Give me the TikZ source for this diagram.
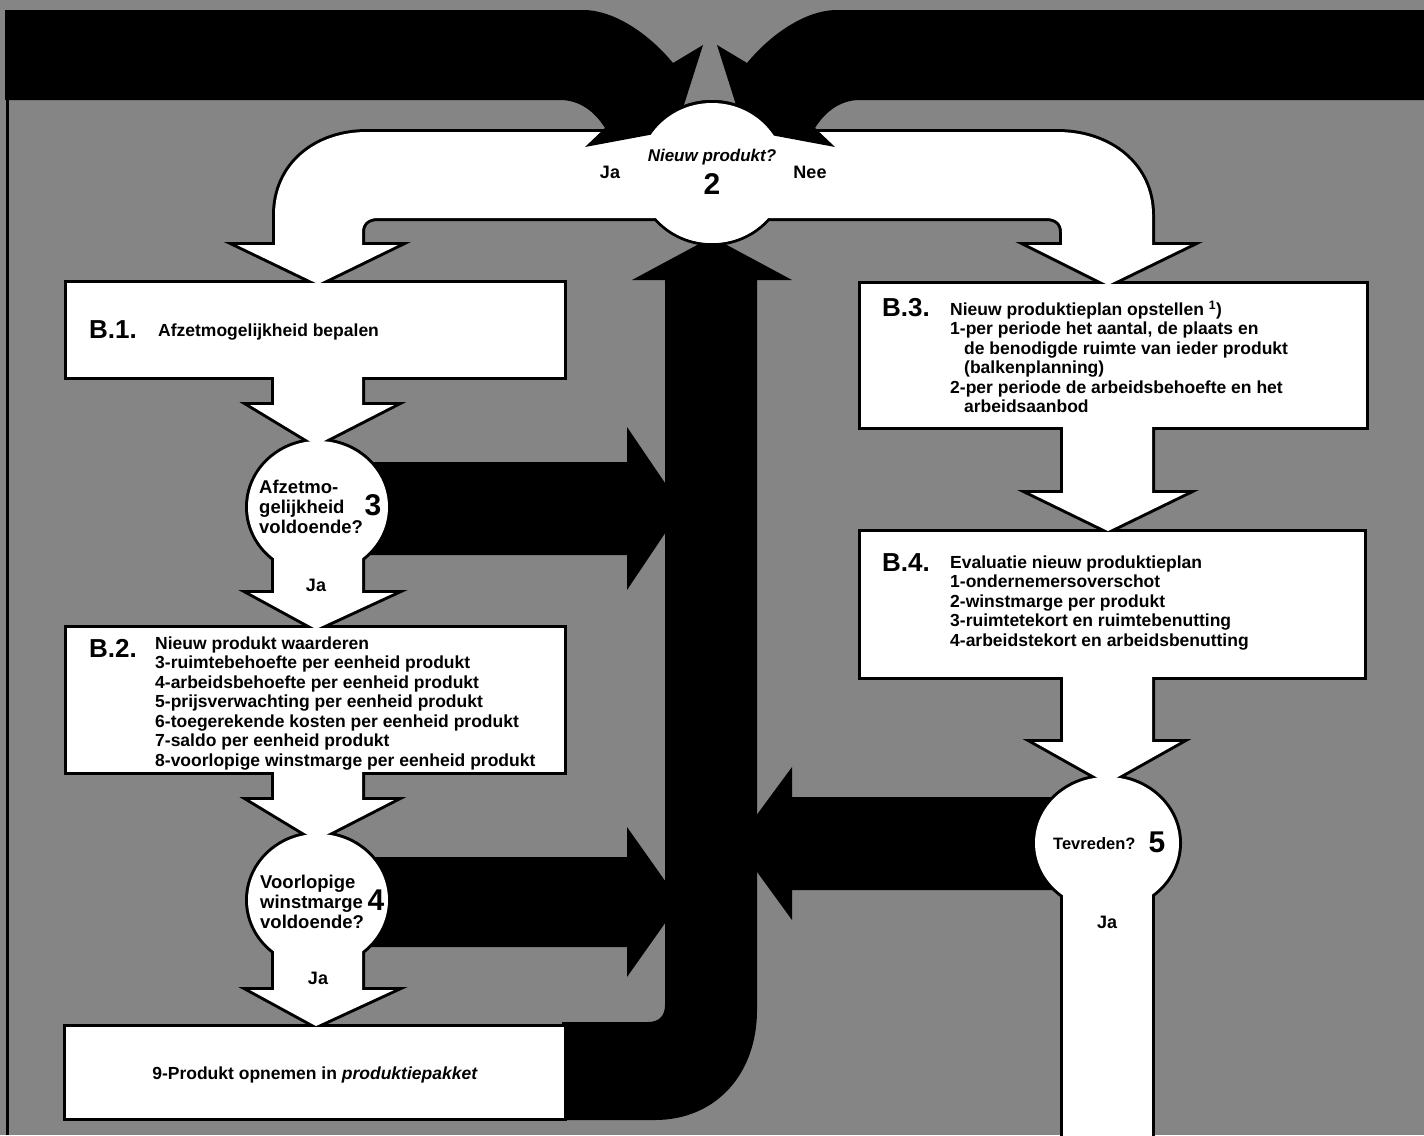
\documentclass[tikz,border=0pt]{standalone}
\usepackage{fontspec}
\setmainfont{Liberation Sans}
\definecolor{bgc}{gray}{0.52}
% white shapes (paths)
\newcommand\shBar{(275,249) -- (275,215) .. controls (275,165) and (315,132) .. (367,132) -- (1057,132) .. controls (1110,132) and (1152,165) .. (1152,215) -- (1152,249) -- (1062,249) -- (1062,232) .. controls (1062,223) and (1056,218) .. (1046,218) -- (378,218) .. controls (368,218) and (362,223) .. (362,232) -- (362,249) -- cycle}
\newcommand\shEll{(712,173) ellipse [x radius=73, y radius=70]}
\newcommand\shHeadL{(237,245) -- (318,284) -- (398,245) -- cycle}
\newcommand\shHeadR{(1028,245) -- (1108,285) -- (1190,245) -- cycle}
\newcommand\shBoxA{(67,283) rectangle (564,377)}
\newcommand\shArrA{(274,370) -- (362,370) -- (362,405) -- (394,405) -- (316,445) -- (250,405) -- (274,405) -- cycle}
\newcommand\shDecA{(318,507) ellipse [x radius=70, y radius=66]}
\newcommand\shArrB{(274,540) -- (362,540) -- (362,593) -- (394,593) -- (316,629) -- (250,593) -- (274,593) -- cycle}
\newcommand\shBoxB{(67,628) rectangle (564,772)}
\newcommand\shArrC{(274,765) -- (362,765) -- (362,800) -- (394,800) -- (316,840) -- (250,800) -- (274,800) -- cycle}
\newcommand\shDecB{(318,900) ellipse [x radius=70, y radius=66]}
\newcommand\shArrD{(274,935) -- (362,935) -- (362,990) -- (394,990) -- (316,1026) -- (250,990) -- (274,990) -- cycle}
\newcommand\shBoxC{(66,1027) rectangle (564,1118)}
\newcommand\shBoxD{(861,284) rectangle (1366,427)}
\newcommand\shArrE{(1063,420) -- (1152,420) -- (1152,493) -- (1186,493) -- (1108,531) -- (1030,493) -- (1063,493) -- cycle}
\newcommand\shBoxE{(861,532) rectangle (1364,677)}
\newcommand\shArrF{(1063,670) -- (1152,670) -- (1152,742) -- (1180,742) -- (1107,783) -- (1034,742) -- (1063,742) -- cycle}
\newcommand\shDecC{(1107,843) ellipse [x radius=72, y radius=66]}
\newcommand\shShaft{(1063,880) rectangle (1152,1140)}
\begin{document}
\begin{tikzpicture}[x=1pt,y=-1pt,
  outl/.style={draw=black,line width=6pt,line join=miter,miter limit=6},
  blk/.style={fill=black},
  boxtext/.style={font=\bfseries\fontsize{17.5}{19.5}\selectfont,inner sep=0pt,align=left,anchor=north west},
  dectext/.style={font=\bfseries\fontsize{18.5}{20}\selectfont,inner sep=0pt,align=left,anchor=north west},
  blabel/.style={font=\bfseries\fontsize{26}{26}\selectfont,inner sep=0pt,anchor=base west},
  num/.style={font=\bfseries\fontsize{30}{30}\selectfont,inner sep=0pt,anchor=center},
  lbl/.style={font=\bfseries\fontsize{18}{18}\selectfont,inner sep=0pt,anchor=base},
]
\useasboundingbox (0,0) rectangle (1424,1135);
% background
\fill[bgc] (0,0) rectangle (1424,1135);
\draw[line width=3pt] (7,98) -- (7,1135);

% black flow arrows (under the white shapes)
\fill[blk] (665,280) -- (632,280) -- (712,237) -- (792,280) -- (757,280) -- (757,1010)
  .. controls (757,1075) and (715,1120) .. (655,1120) -- (562,1120) -- (562,1022) -- (648,1022)
  .. controls (659,1022) and (665,1016) .. (665,1005) -- cycle;
\fill[blk] (330,462) -- (627,462) -- (627,427) -- (682,508) -- (627,590) -- (627,555) -- (330,555) -- cycle;
\fill[blk] (330,857) -- (627,857) -- (627,827) -- (680,902) -- (627,977) -- (627,947) -- (330,947) -- cycle;
\fill[blk] (1100,797) -- (792,797) -- (792,767) -- (736,843) -- (792,920) -- (792,890) -- (1100,890) -- cycle;

% white shapes: outlines first, then fills (union look)
\foreach \s in {\shBar,\shEll,\shHeadL,\shHeadR,\shBoxA,\shArrA,\shDecA,\shArrB,\shBoxB,\shArrC,\shDecB,\shArrD,\shBoxC,\shBoxD,\shArrE,\shBoxE,\shArrF,\shDecC,\shShaft}
  {\draw[outl] \s;}
\foreach \s in {\shBar,\shEll,\shHeadL,\shHeadR,\shBoxA,\shArrA,\shDecA,\shArrB,\shBoxB,\shArrC,\shDecB,\shArrD,\shBoxC,\shBoxD,\shArrE,\shBoxE,\shArrF,\shDecC,\shShaft}
  {\fill[white] \s;}

% black top band arrows (over the white bar)
\fill[blk] (5,10) -- (583,10) .. controls (615,10) and (650,35) .. (673,63) -- (703,45) -- (676,130)
  -- (585,147) -- (605,128) .. controls (595,112) and (580,100) .. (560,100) -- (5,100) -- cycle;
\fill[blk] (1424,10) -- (837,10) .. controls (805,10) and (770,35) .. (747,63) -- (717,45) -- (744,130)
  -- (835,147) -- (815,128) .. controls (825,112) and (840,100) .. (860,100) -- (1424,100) -- cycle;

% decision 2 dome over the arrow tips
\begin{scope}
  \clip (0,0) rectangle (1424,134);
  \draw[outl] \shEll;
\end{scope}
\fill[white] \shEll;

% texts
\node[font=\bfseries\itshape\fontsize{17}{17}\selectfont,inner sep=0pt,anchor=base] (q2) at (712,161) {Nieuw produkt?};
\node[num] (n2) at (712,184) {2};
\node[lbl] (ja2) at (610,178) {Ja};
\node[lbl] (nee2) at (810,178) {Nee};

\node[blabel] (b1l) at (89,338) {B.1.};
\node[boxtext,anchor=base west] (b1t) at (158,336) {Afzetmogelijkheid bepalen};

\node[dectext] (d3t) at (259,480) {Afzetmo-\\gelijkheid\\voldoende?};
\node[num] (n3) at (373,505) {3};
\node[lbl] (ja3) at (316,591) {Ja};

\node[blabel] (b2l) at (89,657) {B.2.};
\node[boxtext] (b2t) at (155,636.5) {Nieuw produkt waarderen\\3-ruimtebehoefte per eenheid produkt\\4-arbeidsbehoefte per eenheid produkt\\5-prijsverwachting per eenheid produkt\\6-toegerekende kosten per eenheid produkt\\7-saldo per eenheid produkt\\8-voorlopige winstmarge per eenheid produkt};

\node[dectext] (d4t) at (260,875) {Voorlopige\\winstmarge\\voldoende?};
\node[num] (n4) at (376,900) {4};
\node[lbl] (ja4) at (318,984) {Ja};

\node[boxtext,anchor=base] (b9t) at (315,1079) {9-Produkt opnemen in \textit{produktiepakket}};

\node[blabel] (b3l) at (882,316) {B.3.};
\node[boxtext] (b3t) at (950,300.5) {Nieuw produktieplan opstellen \textsuperscript{1})\\1-per periode het aantal, de plaats en\\\hspace*{14pt}de benodigde ruimte van ieder produkt\\\hspace*{14pt}(balkenplanning)\\2-per periode de arbeidsbehoefte en het\\\hspace*{14pt}arbeidsaanbod};

\node[blabel] (b4l) at (882,571) {B.4.};
\node[boxtext] (b4t) at (950,555.5) {Evaluatie nieuw produktieplan\\1-ondernemersoverschot\\2-winstmarge per produkt\\3-ruimtetekort en ruimtebenutting\\4-arbeidstekort en arbeidsbenutting};

\node[font=\bfseries\fontsize{16.5}{16.5}\selectfont,inner sep=0pt,anchor=base west] (t5) at (1053,849) {Tevreden?};
\node[num] (n5) at (1157,842) {5};
\node[lbl] (ja5) at (1107,928) {Ja};
\end{tikzpicture}
\end{document}
